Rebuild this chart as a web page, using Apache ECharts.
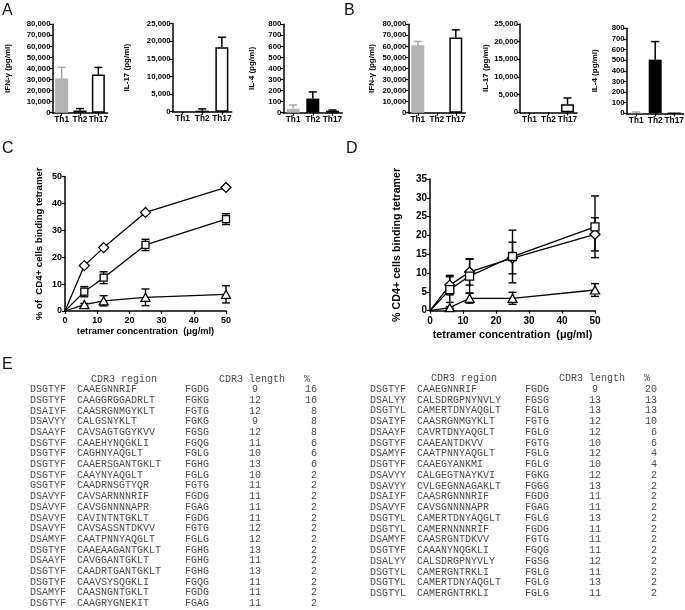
<!DOCTYPE html>
<html><head><meta charset="utf-8">
<script src="https://cdn.jsdelivr.net/npm/echarts@6/dist/echarts.min.js"></script>
<style>html,body{margin:0;padding:0;background:#fff}#c{width:685px;height:610px}</style>
</head><body><div id="c"></div>
<script>
// ---------- data ----------
const cellTypes = ['Th1', 'Th2', 'Th17'];
// Panel A
const aIFN = [31000, 2000, 34500];  const aIFNErr = [10000, 1800, 6500];
const aIL17 = [0, 300, 18300];      const aIL17Err = [0, 500, 2800];
const aIL4 = [35, 128, 18];         const aIL4Err = [35, 60, 6];
// Panel B
const bIFN = [61000, 0, 68000];     const bIFNErr = [3500, 0, 7000];
const bIL17 = [0, 0, 2300];         const bIL17Err = [0, 0, 1750];
const bIL4 = [4, 505, 0];           const bIL4Err = [8, 170, 0];
// Panels C and D
const conc = [0, 6, 12, 25, 50];
const cDiamond = [0, 16.9, 23.6, 36.7, 46.0];
const cSquare = [0, 7.2, 12.4, 24.6, 34.2];   const cSquareErr = [0, 1.9, 2.2, 2.1, 2.0];
const cTriangle = [0, 2.4, 3.8, 5.1, 6.2];    const cTriangleErr = [0, 0.4, 1.9, 3.1, 3.2];
const dDiamond = [0, 6.8, 10.3, 14.0, 20.3];  const dDiamondErr = [0, 2.6, 3.5, 4.2, 4.4];
const dSquare = [0, 5.6, 9.2, 14.4, 22.3];    const dSquareErr = [0, 3.4, 4.5, 7.0, 8.2];
const dTriangle = [0, 0.8, 3.3, 3.3, 5.5];    const dTriangleErr = [0, 0.3, 1.3, 1.6, 1.7];
// Panel E tables
const tableHeader = ['CDR3 region', 'CDR3 length', '%'];
const leftJ = ['DSGTYF','DSGTYF','DSAIYF','DSAVYY','DSAAYF','DSGTYF','DSGTYF','DSGTYF','DSGTYF','GSGTYF','DSAVYF','DSAVYF','DSAVYF','DSAVYF','DSAMYF','DSGTYF','DSAAYF','DSGTYF','DSGTYF','DSAMYF','DSGTYF'];
const leftCDR3 = ['CAAEGNNRIF','CAAGGRGGADRLT','CAASRGNMGYKLT','CALGSNYKLT','CAVSAGTGGYKVV','CAAEHYNQGKLI','CAGHNYAQGLT','CAAERSGANTGKLT','CAAYNYAQGLT','CAADRNSGTYQR','CAVSARNNNRIF','CAVSGNNNNAPR','CAVINTNTGKLT','CAVSASSNTDKVV','CAATPNNYAQGLT','CAAEAAGANTGKLT','CAVGGANTGKLT','CAADRTGANTGKLT','CAAVSYSQGKLI','CAASNGNTGKLT','CAAGRYGNEKIT'];
const leftFG = ['FGDG','FGKG','FGTG','FGKG','FGSG','FGQG','FGLG','FGHG','FGLG','FGTG','FGDG','FGAG','FGDG','FGTG','FGLG','FGHG','FGHG','FGHG','FGQG','FGDG','FGAG'];
const leftLen = [9,12,12,9,12,11,10,13,10,11,11,11,11,12,12,13,11,13,11,11,11];
const leftPct = [16,16,8,8,8,6,6,6,2,2,2,2,2,2,2,2,2,2,2,2,2];
const rightJ = ['DSGTYF','DSALYY','DSGTYL','DSAIYF','DSAAYF','DSGTYF','DSAMYF','DSGTYF','DSAVYY','DSAVYY','DSAIYF','DSAVYF','DSGTYL','DSGTYL','DSAMYF','DSGTYF','DSALYY','DSGTYL','DSGTYL','DSGTYL'];
const rightCDR3 = ['CAAEGNNRIF','CALSDRGPNYNVLY','CAMERTDNYAQGLT','CAASRGNMGYKLT','CAVRTDNYAQGLT','CAAEANTDKVV','CAATPNNYAQGLT','CAAEGYANKMI','CALGEGTNAYKVI','CVLGEGNNAGAKLT','CAASRGNNNRIF','CAVSGNNNNAPR','CAMERTDNYAQGLT','CAMERNNNNRIF','CAASRGNTDKVV','CAAANYNQGKLI','CALSDRGPNYVLY','CAMERGNTRKLI','CAMERTDNYAQGLT','CAMERGNTRKLI'];
const rightFG = ['FGDG','FGSG','FGLG','FGTG','FGLG','FGTG','FGLG','FGLG','FGKG','FGGG','FGDG','FGAG','FGLG','FGDG','FGTG','FGQG','FGSG','FGLG','FGLG','FGLG'];
const rightLen = [9,13,13,12,12,10,12,10,12,13,11,11,13,11,11,11,12,11,13,11];
const rightPct = [20,13,13,10,6,6,4,4,2,2,2,2,2,2,2,2,2,2,2,2];
const panelLabels = ['A','B','C','D','E'];

// ---------- chart ----------
const chart = echarts.init(document.getElementById('c'));
const F = '"Liberation Sans", Arial, Helvetica, sans-serif';
const MONO = '"Liberation Mono", "Courier New", monospace';
const fmt = v => v.toLocaleString('en-US');

const grids = [
  {left: 52.5, top: 24.3, width: 55, height: 88.4},
  {left: 172.7, top: 23.5, width: 59, height: 88.2},
  {left: 283.3, top: 24.3, width: 59, height: 88.4},
  {left: 408.3, top: 24.3, width: 57, height: 88.4},
  {left: 520, top: 24, width: 57, height: 88.3},
  {left: 626.7, top: 28.3, width: 57, height: 85},
  {left: 65, top: 176.7, width: 161, height: 134.3},
  {left: 430, top: 179, width: 165, height: 131.7}
].map(g => Object.assign({containLabel: false, outerBoundsMode: 'none'}, g));

const axLine = {show: true, lineStyle: {color: '#000', width: 1.5}};
function barX(gi) {
  return {type: 'category', gridIndex: gi, data: cellTypes, axisLine: axLine,
    axisTick: {show: true, alignWithLabel: true, length: 3, lineStyle: {color: '#000', width: 1.2}},
    axisLabel: {fontFamily: F, fontWeight: 'bold', fontSize: 8.3, color: '#000', margin: 3, interval: 0}};
}
function barY(gi, max, interval, name, gap) {
  return {type: 'value', gridIndex: gi, min: 0, max: max, interval: interval,
    name: name, nameLocation: 'middle', nameRotate: 90, nameGap: gap,
    nameTextStyle: {fontFamily: F, fontWeight: 'bold', fontSize: 8, color: '#000'},
    axisLine: axLine, axisTick: {show: true, length: 3, lineStyle: {color: '#000', width: 1.2}},
    splitLine: {show: false},
    axisLabel: {fontFamily: F, fontWeight: 'bold', fontSize: 7.8, color: '#000', margin: 2, formatter: fmt}};
}
const barStyles = [{color: '#b4b4b4'}, {color: '#000'}, {color: '#fff', borderColor: '#000', borderWidth: 1.5}];
const errCol = ['#a8a8a8', '#000', '#000'];
function barSeries(gi, vals) {
  return {type: 'bar', xAxisIndex: gi, yAxisIndex: gi, barWidth: 13, z: 2,
    data: vals.map((v, i) => ({value: v, itemStyle: barStyles[i]}))};
}
function barErr(gi, vals, errs) {
  return {type: 'custom', xAxisIndex: gi, yAxisIndex: gi, z: 3,
    data: vals.map((v, i) => [i, v, errs[i]]),
    renderItem: (p, api) => {
      const i = api.value(0), v = api.value(1), e = api.value(2);
      if (!e) return {type: 'group', children: []};
      const b = api.coord([i, v]), t = api.coord([i, v + e]);
      const st = {stroke: errCol[i], lineWidth: 1.5};
      return {type: 'group', children: [
        {type: 'line', shape: {x1: b[0], y1: b[1], x2: t[0], y2: t[1]}, style: st},
        {type: 'line', shape: {x1: t[0] - 4, y1: t[1], x2: t[0] + 4, y2: t[1]}, style: st}
      ]};
    }};
}
function lineX(gi, gap, fs, nfs, margin) {
  return {type: 'value', gridIndex: gi, min: 0, max: 50, interval: 10,
    name: 'tetramer concentration  (\u03bcg/ml)', nameLocation: 'middle', nameGap: gap,
    nameTextStyle: {fontFamily: F, fontWeight: 'bold', fontSize: nfs, color: '#000'},
    axisLine: axLine, axisTick: {show: true, length: 3, lineStyle: {color: '#000', width: 1.2}},
    splitLine: {show: false},
    axisLabel: {fontFamily: F, fontWeight: 'bold', fontSize: fs, color: '#000', margin: margin}};
}
function lineY(gi, max, interval, name, gap, fs, nfs) {
  return {type: 'value', gridIndex: gi, min: 0, max: max, interval: interval,
    name: name, nameLocation: 'middle', nameRotate: 90, nameGap: gap,
    nameTextStyle: {fontFamily: F, fontWeight: 'bold', fontSize: nfs, color: '#000'},
    axisLine: axLine, axisTick: {show: true, length: 3, lineStyle: {color: '#000', width: 1.2}},
    splitLine: {show: false},
    axisLabel: {fontFamily: F, fontWeight: 'bold', fontSize: fs, color: '#000', margin: 3}};
}
function lineSeries(gi, vals, symbol, size) {
  return {type: 'line', xAxisIndex: gi, yAxisIndex: gi, z: 4, symbol: symbol, symbolSize: size,
    showAllSymbol: true,
    data: conc.map((c, i) => i === 0 ? {value: [c, vals[i]], symbol: 'none'} : [c, vals[i]]),
    lineStyle: {color: '#000', width: 1.3},
    itemStyle: {color: '#fff', borderColor: '#000', borderWidth: 1.3}};
}
function lineErr(gi, vals, errs) {
  return {type: 'custom', xAxisIndex: gi, yAxisIndex: gi, z: 3,
    data: conc.map((c, i) => [c, vals[i], errs[i]]),
    renderItem: (p, api) => {
      const x = api.value(0), v = api.value(1), e = api.value(2);
      if (!e) return {type: 'group', children: []};
      const t = api.coord([x, v + e]), b = api.coord([x, v - e]);
      const st = {stroke: '#000', lineWidth: 1.4};
      return {type: 'group', children: [
        {type: 'line', shape: {x1: t[0], y1: t[1], x2: b[0], y2: b[1]}, style: st},
        {type: 'line', shape: {x1: t[0] - 4, y1: t[1], x2: t[0] + 4, y2: t[1]}, style: st},
        {type: 'line', shape: {x1: b[0] - 4, y1: b[1], x2: b[0] + 4, y2: b[1]}, style: st}
      ]};
    }};
}

// ---------- table text (graphic) ----------
const elems = [];
function txt(x, y, text, align) {
  elems.push({type: 'text', x: x, y: y, silent: true,
    style: {text: String(text), font: '10px ' + MONO, fill: '#4a4a4a', align: align, verticalAlign: 'middle'}});
}
function table(x0, headerY, rowY0, rowStep, J, C, FG, L, P) {
  txt(x0 + 94, headerY, tableHeader[0], 'center');
  txt(x0 + 222, headerY, tableHeader[1], 'center');
  txt(x0 + 277, headerY, tableHeader[2], 'center');
  J.forEach((j, i) => {
    const y = rowY0 + i * rowStep;
    txt(x0, y, j, 'left');
    txt(x0 + 47, y, C[i], 'left');
    txt(x0 + 155, y, FG[i], 'left');
    txt(x0 + 225, y, L[i], 'center');
    txt(x0 + 287, y, P[i], 'right');
  });
}
table(30, 379.3, 389.5, 10.7, leftJ, leftCDR3, leftFG, leftLen, leftPct);
table(370, 378.3, 389.3, 10.74, rightJ, rightCDR3, rightFG, rightLen, rightPct);
const labelPos = [[2, 3], [344, 3], [2, 141], [346, 141], [2, 357]];
panelLabels.forEach((l, i) => elems.push({type: 'text', x: labelPos[i][0], y: labelPos[i][1], silent: true,
  style: {text: l, font: '16px ' + F, fill: '#111'}}));

const option = {
  animation: false,
  backgroundColor: '#fff',
  grid: grids,
  xAxis: [barX(0), barX(1), barX(2), barX(3), barX(4), barX(5),
          lineX(6, 16, 9, 9.3, 5), lineX(7, 19, 10, 10.8, 6)],
  yAxis: [barY(0, 80000, 10000, 'IFN-\u03b3 (pg/ml)', 41),
          barY(1, 25000, 5000, 'IL-17 (pg/ml)', 42),
          barY(2, 800, 100, 'IL-4 (pg/ml)', 28),
          barY(3, 80000, 10000, 'IFN-\u03b3 (pg/ml)', 33),
          barY(4, 25000, 5000, 'IL-17 (pg/ml)', 30.5),
          barY(5, 800, 100, 'IL-4 (pg/ml)', 28),
          lineY(6, 50, 10, '% of  CD4+ cells binding tetramer', 21, 9, 9.6),
          lineY(7, 35, 5, '% CD4+ cells binding tetramer', 27, 10, 10.7)],
  series: [
    barSeries(0, aIFN), barErr(0, aIFN, aIFNErr),
    barSeries(1, aIL17), barErr(1, aIL17, aIL17Err),
    barSeries(2, aIL4), barErr(2, aIL4, aIL4Err),
    barSeries(3, bIFN), barErr(3, bIFN, bIFNErr),
    barSeries(4, bIL17), barErr(4, bIL17, bIL17Err),
    barSeries(5, bIL4), barErr(5, bIL4, bIL4Err),
    lineSeries(6, cDiamond, 'diamond', [10, 10]),
    lineSeries(6, cSquare, 'rect', [7, 7]), lineErr(6, cSquare, cSquareErr),
    lineSeries(6, cTriangle, 'triangle', [9, 8]), lineErr(6, cTriangle, cTriangleErr),
    lineSeries(7, dDiamond, 'diamond', [10, 10]), lineErr(7, dDiamond, dDiamondErr),
    lineSeries(7, dSquare, 'rect', [8, 8]), lineErr(7, dSquare, dSquareErr),
    lineSeries(7, dTriangle, 'triangle', [9, 8]), lineErr(7, dTriangle, dTriangleErr)
  ],
  graphic: elems
};
chart.setOption(option);
</script>
</body></html>
